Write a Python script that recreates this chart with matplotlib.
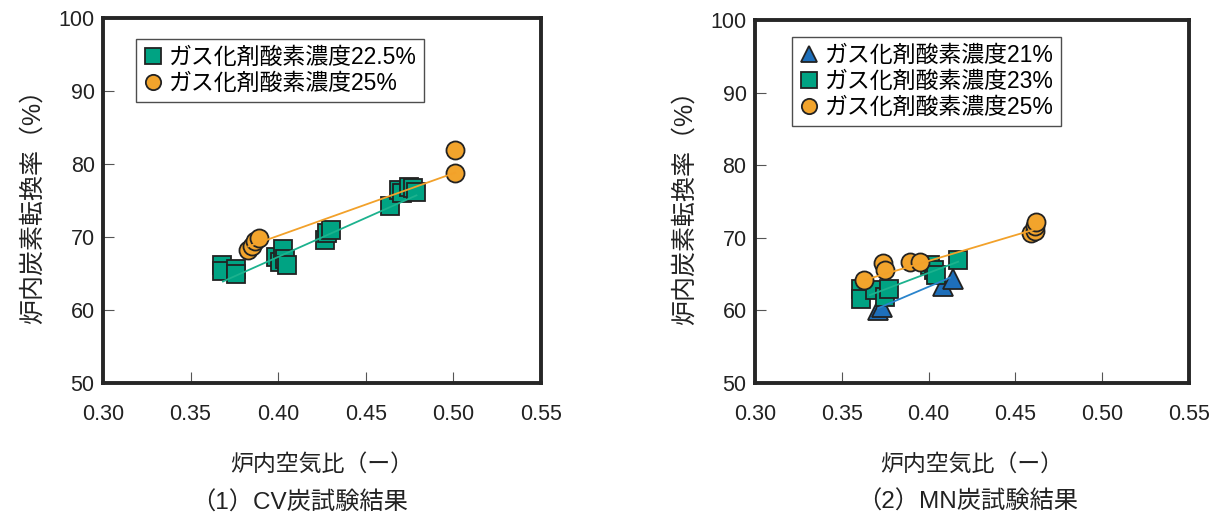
import numpy as np
import matplotlib
matplotlib.use('Agg')
import matplotlib.pyplot as plt

plt.rcParams['font.family'] = ['Liberation Sans', 'Noto Sans CJK JP', 'DejaVu Sans']

# CV coal, O2 22.5%
cv_x_225 = [0.368, 0.368, 0.376, 0.376, 0.399, 0.401, 0.403, 0.404, 0.405,
            0.427, 0.428, 0.430, 0.464, 0.469, 0.471, 0.475, 0.477, 0.479]
cv_y_225 = [66.2, 65.3, 65.6, 64.9, 67.2, 66.5, 68.3, 67.0, 66.2,
            69.6, 70.6, 70.9, 74.2, 76.4, 76.0, 76.9, 76.7, 76.2]
# CV coal, O2 25%
cv_x_25 = [0.383, 0.385, 0.387, 0.389, 0.501, 0.501]
cv_y_25 = [68.2, 68.7, 69.4, 69.8, 81.9, 78.8]

# MN coal
mn_x_21 = [0.371, 0.373, 0.408, 0.414]
mn_y_21 = [60.1, 60.4, 63.3, 64.3]
mn_x_23 = [0.361, 0.361, 0.369, 0.375, 0.377, 0.401, 0.403, 0.404, 0.417]
mn_y_23 = [63.0, 61.5, 62.8, 61.9, 63.0, 66.2, 65.5, 64.9, 66.9]
mn_x_25 = [0.363, 0.374, 0.375, 0.389, 0.395, 0.459, 0.461, 0.461, 0.462]
mn_y_25 = [64.2, 66.5, 65.5, 66.7, 66.7, 70.6, 71.0, 71.6, 72.2]

# trend lines as drawn in the original (start / end)
cv_fit_x_225 = [0.3685, 0.479]
cv_fit_y_225 = [63.9, 75.7]
cv_fit_x_25 = [0.383, 0.501]
cv_fit_y_25 = [68.7, 78.8]
mn_fit_x_21 = [0.371, 0.4123]
mn_fit_y_21 = [60.3, 64.5]
mn_fit_x_23 = [0.3662, 0.417]
mn_fit_y_23 = [62.1, 66.7]
mn_fit_x_25 = [0.3634, 0.4603]
mn_fit_y_25 = [64.2, 71.1]

green = '#00A383'
orange = '#F2A42C'
blue = '#1E6FBA'
green_line = '#1CB28E'
orange_line = '#F2A12A'
blue_line = '#2A84CC'
edge = '#222222'

fig = plt.figure(figsize=(12.23, 5.16), dpi=100)
ax1 = fig.add_axes([0.0842, 0.258, 0.358, 0.707])
ax2 = fig.add_axes([0.6173, 0.258, 0.355, 0.703])


def series(ax, x, y, fx, fy, marker, color, lcolor, label, ms):
    ax.plot(x, y, linestyle='none', marker=marker, markersize=ms, markerfacecolor=color,
            markeredgecolor=edge, markeredgewidth=1.3, zorder=3, label=label)
    ax.plot(fx, fy, color=lcolor, linewidth=1.3, zorder=5)


series(ax1, cv_x_225, cv_y_225, cv_fit_x_225, cv_fit_y_225, 's', green, green_line,
       'ガス化剤酸素濃度22.5%', 13)
series(ax1, cv_x_25, cv_y_25, cv_fit_x_25, cv_fit_y_25, 'o', orange, orange_line,
       'ガス化剤酸素濃度25%', 13)

series(ax2, mn_x_21, mn_y_21, mn_fit_x_21, mn_fit_y_21, '^', blue, blue_line,
       'ガス化剤酸素濃度21%', 14)
series(ax2, mn_x_23, mn_y_23, mn_fit_x_23, mn_fit_y_23, 's', green, green_line,
       'ガス化剤酸素濃度23%', 13)
series(ax2, mn_x_25, mn_y_25, mn_fit_x_25, mn_fit_y_25, 'o', orange, orange_line,
       'ガス化剤酸素濃度25%', 13)

for ax, sub in [(ax1, '（1）CV炭試験結果'), (ax2, '（2）MN炭試験結果')]:
    ax.set_xlim(0.30, 0.55)
    ax.set_ylim(50, 100)
    ax.set_xticks([0.30, 0.35, 0.40, 0.45, 0.50, 0.55])
    ax.set_xticklabels(['0.30', '0.35', '0.40', '0.45', '0.50', '0.55'])
    ax.set_yticks([50, 60, 70, 80, 90, 100])
    ax.tick_params(direction='in', length=8, width=0.8, color='#555555',
                   labelsize=15.5, labelcolor='#222222')
    ax.tick_params(axis='x', pad=15)
    ax.tick_params(axis='y', pad=6)
    for s in ax.spines.values():
        s.set_linewidth(2.8)
        s.set_color('#262626')
    ax.set_ylabel('炉内炭素転換率（%）', fontsize=18, color='#222222', labelpad=10)
    ax.set_xlabel('炉内空気比（ー）', fontsize=16.5, color='#222222', labelpad=20)
    ax.text(0.45 if ax is ax1 else 0.49, -0.33, sub, transform=ax.transAxes,
            ha='center', va='center', fontsize=17.5, color='#222222')
    leg = ax.legend(loc='upper left', fontsize=16.5, frameon=True, fancybox=False,
                    handletextpad=0.25, handlelength=0.9, borderpad=0.3,
                    labelspacing=0.12, borderaxespad=0.2,
                    bbox_to_anchor=(0.065, 0.955) if ax is ax1 else (0.075, 0.965))
    leg.get_frame().set_edgecolor('#222222')
    leg.get_frame().set_linewidth(1.0)
    for h in leg.legend_handles:
        h.set_markersize(11)

fig.savefig('out.png', dpi=100)
